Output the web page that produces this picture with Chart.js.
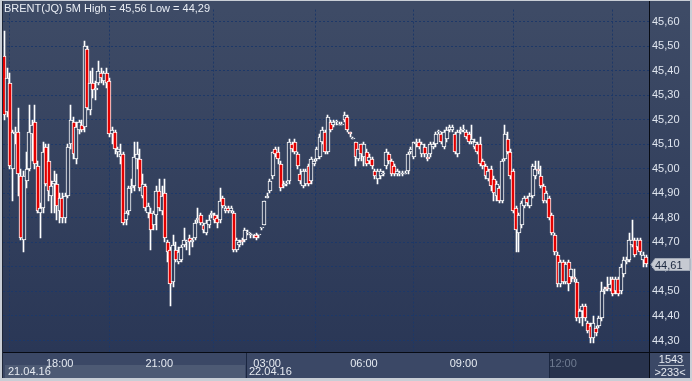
<!DOCTYPE html>
<html><head><meta charset="utf-8">
<script src="https://cdn.jsdelivr.net/npm/chart.js@4.4.1/dist/chart.umd.min.js"></script>
<style>html,body{margin:0;padding:0;background:#c9ced6;}canvas{display:block;}</style>
</head><body>
<canvas id="c" width="692" height="381"></canvas>
<script>
// ---- data (5-minute candles, BRENT(JQ)) ----
const OPEN = [
45.46,45.23,45.35,45.00,45.14,45.15,44.97,44.71,44.95,45.00,
45.14,45.19,45.01,44.82,44.84,45.09,45.03,44.89,44.94,44.94,
44.83,44.88,44.80,44.89,45.10,45.19,45.04,45.16,45.18,45.17,
45.49,45.24,45.35,45.32,45.35,45.39,45.36,45.39,45.36,45.14,
45.15,45.07,45.05,45.06,44.79,44.83,44.92,44.93,45.04,45.04,
44.89,44.93,44.82,44.82,44.77,44.81,44.91,44.83,44.90,44.70,
44.67,44.54,44.67,44.62,44.63,44.69,44.70,44.72,44.70,44.72,
44.79,44.81,44.77,44.74,44.77,44.81,44.81,44.80,44.79,44.88,
44.83,44.84,44.83,44.82,44.67,44.69,44.71,44.71,44.74,44.73,
44.73,44.73,44.73,44.76,44.77,44.88,44.91,44.97,45.08,45.07,
45.02,44.93,44.94,44.95,45.10,45.11,45.06,44.98,44.93,44.94,
45.01,44.95,45.02,45.04,45.05,45.11,45.15,45.07,45.19,45.18,
45.19,45.18,45.18,45.20,45.21,45.15,45.12,45.11,45.04,45.10,
45.05,45.07,45.03,45.04,44.99,44.96,44.97,44.98,45.01,45.06,
45.03,45.01,44.98,44.98,44.98,44.98,44.99,45.07,45.05,45.10,
45.11,45.06,45.09,45.05,45.06,45.09,45.10,45.15,45.14,45.09,
45.12,45.16,45.16,45.14,45.06,45.15,45.16,45.15,45.14,45.11,
45.09,45.10,45.10,45.03,45.01,44.96,45.00,44.96,44.89,44.92,
44.87,45.04,45.12,45.07,44.99,44.84,44.74,44.77,44.85,44.88,
44.85,44.89,44.97,45.00,44.97,44.93,44.87,44.88,44.81,44.73,
44.65,44.53,44.62,44.54,44.62,44.56,44.56,44.54,44.39,44.42,
44.44,44.37,44.36,44.31,44.35,44.36,44.39,44.50,44.52,44.51,
44.55,44.50,44.55,44.50,44.57,44.62,44.63,44.69,44.71,44.68,
44.71,44.63,44.64];
const HIGH = [
45.56,45.41,45.39,45.16,45.17,45.25,45.00,44.99,45.07,45.26,
45.20,45.26,45.03,44.86,45.11,45.10,45.10,44.95,44.99,44.98,
44.90,44.90,44.90,45.10,45.26,45.21,45.19,45.20,45.20,45.52,
45.50,45.40,45.41,45.36,45.44,45.41,45.40,45.41,45.37,45.17,
45.16,45.09,45.10,45.07,44.83,44.93,44.96,45.11,45.11,45.08,
44.98,44.94,44.86,44.84,44.83,44.93,44.96,44.93,44.96,44.71,
44.68,44.73,44.70,44.68,44.69,44.76,44.71,44.73,44.72,44.79,
44.84,44.82,44.78,44.79,44.81,44.83,44.82,44.81,44.92,44.89,
44.85,44.85,44.85,44.83,44.72,44.71,44.72,44.76,44.75,44.74,
44.73,44.74,44.73,44.76,44.87,44.90,44.96,45.07,45.09,45.09,
45.03,44.95,44.95,45.12,45.11,45.12,45.07,45.00,45.00,45.00,
45.02,45.05,45.04,45.09,45.14,45.17,45.16,45.22,45.20,45.20,
45.20,45.19,45.19,45.23,45.22,45.15,45.13,45.11,45.08,45.10,
45.11,45.08,45.06,45.05,45.00,45.00,45.00,44.99,45.08,45.07,
45.04,45.02,45.00,44.99,44.99,44.99,45.07,45.09,45.11,45.12,
45.12,45.11,45.10,45.06,45.11,45.11,45.15,45.16,45.15,45.16,
45.17,45.18,45.18,45.15,45.16,45.17,45.18,45.16,45.15,45.18,
45.12,45.11,45.13,45.04,45.02,45.00,45.01,44.97,44.95,44.93,
45.04,45.18,45.15,45.08,45.00,44.85,44.82,44.87,44.89,44.89,
44.90,45.02,45.03,45.03,45.01,44.94,44.91,44.89,44.82,44.74,
44.66,44.63,44.63,44.62,44.63,44.59,44.59,44.55,44.43,44.45,
44.45,44.38,44.37,44.40,44.36,44.40,44.54,44.52,44.56,44.56,
44.56,44.56,44.56,44.61,44.64,44.64,44.74,44.79,44.72,44.72,
44.72,44.66,44.65];
const LOW = [
45.20,45.21,45.00,44.87,45.10,44.89,44.71,44.66,44.92,44.99,
45.03,45.00,44.82,44.72,44.82,44.93,44.87,44.82,44.82,44.79,
44.78,44.78,44.78,44.88,45.08,45.04,45.02,45.14,45.15,45.15,
45.24,45.22,45.29,45.28,45.34,45.35,45.34,45.33,45.13,45.10,
45.06,45.05,45.02,44.77,44.77,44.81,44.90,44.91,45.00,44.91,
44.88,44.83,44.80,44.67,44.75,44.75,44.83,44.81,44.70,44.62,
44.44,44.52,44.62,44.61,44.62,44.68,44.67,44.65,44.68,44.71,
44.78,44.77,44.74,44.73,44.76,44.80,44.78,44.76,44.78,44.84,
44.82,44.82,44.82,44.66,44.66,44.68,44.69,44.70,44.73,44.72,
44.72,44.71,44.72,44.75,44.77,44.88,44.90,44.96,45.05,45.02,
44.91,44.92,44.93,44.94,45.07,45.06,45.00,44.94,44.92,44.93,
44.93,44.94,45.01,45.03,45.04,45.10,45.06,45.06,45.15,45.17,
45.18,45.18,45.18,45.19,45.15,45.13,45.12,45.01,45.03,45.03,
45.01,45.01,45.02,45.00,44.96,44.94,44.96,44.97,45.00,45.02,
44.97,44.97,44.97,44.97,44.97,44.98,44.98,45.06,45.04,45.09,
45.08,45.05,45.05,45.03,45.05,45.08,45.09,45.14,45.10,45.08,
45.11,45.15,45.15,45.06,45.05,45.14,45.15,45.12,45.10,45.10,
45.08,45.06,45.01,45.00,44.96,44.95,44.91,44.87,44.87,44.86,
44.86,45.03,45.06,44.96,44.82,44.66,44.66,44.76,44.84,44.85,
44.84,44.88,44.96,44.98,44.92,44.86,44.86,44.79,44.73,44.65,
44.52,44.52,44.53,44.53,44.50,44.54,44.54,44.38,44.37,44.36,
44.38,44.33,44.29,44.29,44.32,44.35,44.38,44.49,44.50,44.50,
44.48,44.49,44.48,44.49,44.56,44.61,44.62,44.68,44.64,44.67,
44.65,44.60,44.60];
const CLOSE = [
45.22,45.37,45.01,45.15,45.15,44.98,44.72,44.97,45.00,45.15,
45.18,45.02,44.83,44.84,45.07,44.94,44.91,44.93,44.95,44.85,
44.88,44.80,44.89,45.09,45.20,45.06,45.17,45.19,45.16,45.50,
45.25,45.35,45.32,45.33,45.40,45.37,45.39,45.35,45.14,45.16,
45.08,45.08,45.06,44.78,44.82,44.92,44.93,45.05,45.06,44.92,
44.94,44.84,44.85,44.75,44.82,44.91,44.84,44.89,44.72,44.66,
44.53,44.69,44.63,44.66,44.68,44.71,44.70,44.70,44.71,44.78,
44.80,44.78,44.75,44.78,44.79,44.82,44.79,44.78,44.87,44.85,
44.84,44.83,44.84,44.67,44.71,44.70,44.70,44.75,44.74,44.73,
44.73,44.72,44.73,44.76,44.87,44.89,44.95,45.07,45.06,45.04,
44.92,44.94,44.94,45.11,45.08,45.07,45.01,44.95,44.99,44.99,
44.94,45.04,45.03,45.08,45.13,45.16,45.07,45.21,45.16,45.19,
45.19,45.18,45.18,45.22,45.16,45.14,45.12,45.05,45.08,45.06,
45.10,45.02,45.05,45.01,44.97,44.99,44.99,44.98,45.07,45.03,
44.98,44.98,44.99,44.98,44.98,44.98,45.06,45.08,45.11,45.11,
45.09,45.10,45.06,45.04,45.10,45.10,45.14,45.15,45.11,45.15,
45.16,45.17,45.17,45.07,45.15,45.16,45.16,45.13,45.11,45.12,
45.11,45.07,45.02,45.01,44.97,44.99,44.93,44.90,44.94,44.87,
45.03,45.14,45.07,44.97,44.83,44.75,44.81,44.86,44.88,44.86,
44.89,45.01,45.00,44.99,44.93,44.87,44.90,44.80,44.74,44.66,
44.53,44.62,44.54,44.61,44.53,44.59,44.55,44.39,44.42,44.44,
44.39,44.34,44.31,44.37,44.33,44.39,44.50,44.51,44.51,44.53,
44.49,44.55,44.49,44.60,44.63,44.63,44.71,44.71,44.65,44.71,
44.66,44.65,44.61];
const TICK_INDEX = [20, 56, 95, 130, 166, 202];
const TICK_LABELS = ['18:00', '21:00', '03:00', '06:00', '09:00', '12:00'];
const DATE_INDEX = [0, 88];
const DATE_LABELS = ['21.04.16', '22.04.16'];
const Y_TICKS = [44.3, 44.4, 44.5, 44.6, 44.7, 44.8, 44.9, 45.0, 45.1, 45.2, 45.3, 45.4, 45.5, 45.6];
const TITLE = 'BRENT(JQ) 5M High = 45,56 Low = 44,29';
const LAST_PRICE = 44.61;
const BAR_INFO = ['1543', '>233<'];

// ---- styles ----
const FONT = "'Liberation Sans Narrow', 'Arial Narrow', 'Liberation Sans', Arial, sans-serif";
const BG_TOP = [62, 75, 102], BG_BOT = [42, 55, 86];
const RED = '#e30000';
const GRID = '#1d3868';
const FRAME = '#c9ced6';
const fmt = v => v.toFixed(2).replace('.', ',');

function bgAt(py) {
  const t = Math.min(1, Math.max(0, (py - 3) / 349));
  const c = BG_TOP.map((v, k) => Math.round(v + (BG_BOT[k] - v) * t));
  return 'rgb(' + c.join(',') + ')';
}

const bodyData = OPEN.map((o, i) => ({ x: i, y: [o, CLOSE[i]] }));
const wickData = HIGH.map((h, i) => ({ x: i, y: [LOW[i], h] }));

const snap = {
  id: 'snap',
  beforeDatasetsDraw(chart) {
    chart.getSortedVisibleDatasetMetas().forEach(meta => {
      const wick = meta.index === 1;
      meta.data.forEach(el => {
        el.x = wick ? Math.floor(el.x) + 0.5 : Math.round(el.x);
        el.y = Math.round(el.y);
        el.base = Math.round(el.base);
      });
    });
  }
};

const decor = {
  id: 'decor',
  beforeDraw(chart) {
    const c = chart.ctx, a = chart.chartArea, W = chart.width, H = chart.height;
    c.save();
    c.fillStyle = FRAME; c.fillRect(0, 0, W, H);
    const g = c.createLinearGradient(0, a.top, 0, a.bottom);
    g.addColorStop(0, 'rgb(' + BG_TOP.join(',') + ')');
    g.addColorStop(1, 'rgb(' + BG_BOT.join(',') + ')');
    c.fillStyle = g; c.fillRect(2, 1, W - 4, a.bottom - 1);
    // x axis strip
    c.fillStyle = '#3b4866'; c.fillRect(2, a.bottom, W - 4, H - 3 - a.bottom);
    const xs = chart.scales.x;
    const sep = Math.round(xs.getPixelForValue(DATE_INDEX[1] - 0.5));
    c.fillStyle = '#4d5a74'; c.fillRect(5, 365, sep - 6, H - 3 - 365);
    c.fillStyle = '#28334d'; c.fillRect(549, a.bottom + 1, a.right - 549, H - 4 - a.bottom);
    c.fillStyle = '#1a2640';
    c.fillRect(sep, a.bottom, 1, H - 3 - a.bottom);
    c.fillRect(549, a.bottom + 1, 1, H - 4 - a.bottom);
    c.restore();
  },
  afterDraw(chart) {
    const c = chart.ctx, a = chart.chartArea, W = chart.width, H = chart.height;
    const xs = chart.scales.x, ys = chart.scales.y;
    c.save();
    // axis lines
    c.fillStyle = '#070b14';
    c.fillRect(2, a.bottom, W - 4, 1);
    c.fillRect(a.right, 1, 1, H - 4);
    // left dark edge
    c.fillStyle = '#1e2638'; c.fillRect(2, 1, 1, H - 4);
    // title
    c.font = '11px ' + FONT; c.fillStyle = '#e9edf4'; c.textBaseline = 'alphabetic'; c.textAlign = 'left';
    c.fillText(TITLE, 4, 12);
    // dates
    c.fillStyle = '#e6eaf1';
    DATE_INDEX.forEach((d, k) => {
      const px = Math.round(xs.getPixelForValue(d - 0.5));
      c.fillText(DATE_LABELS[k], px + (k === 0 ? 5 : 3), 375);
    });
    // bar info box
    c.textAlign = 'center';
    c.fillText(BAR_INFO[0], 671, 363);
    c.fillText(BAR_INFO[1], 670, 376);
    c.fillStyle = '#aeb6c4'; c.fillRect(658, 365, 26, 1);
    // last price tag
    const py = Math.round(ys.getPixelForValue(LAST_PRICE)) + 0.5;
    c.beginPath();
    c.moveTo(a.right + 2, py);
    c.lineTo(a.right + 6, py - 6);
    c.lineTo(W - 2, py - 6);
    c.lineTo(W - 2, py + 6);
    c.lineTo(a.right + 6, py + 6);
    c.closePath();
    c.fillStyle = '#c6cad2'; c.fill();
    c.strokeStyle = '#9ea6b4'; c.lineWidth = 1; c.stroke();
    c.fillStyle = '#1d2940'; c.textAlign = 'left';
    c.fillText(fmt(LAST_PRICE), a.right + 6, py + 4);
    c.restore();
  }
};

new Chart(document.getElementById('c'), {
  type: 'bar',
  data: {
    datasets: [
      {
        data: bodyData, grouped: false, barThickness: 4, minBarLength: 1,
        borderWidth: 1, borderColor: '#ffffff', borderSkipped: false,
        backgroundColor: (ctx) => {
          const i = ctx.dataIndex;
          if (CLOSE[i] < OPEN[i]) return RED;
          const s = ctx.chart.scales.y;
          return s ? bgAt(s.getPixelForValue((OPEN[i] + CLOSE[i]) / 2)) : bgAt(180);
        }
      },
      { data: wickData, grouped: false, barThickness: 1, borderWidth: 0, backgroundColor: '#ffffff' }
    ]
  },
  options: {
    responsive: false, animation: false, devicePixelRatio: 1,
    layout: { padding: { left: 3, top: 3, right: 0, bottom: 3 } },
    plugins: { legend: { display: false }, tooltip: { enabled: false }, title: { display: false } },
    scales: {
      x: {
        type: 'linear', position: 'bottom', min: -0.5, max: 233.08, offset: false,
        afterFit(s) { s.height = 26; },
        afterBuildTicks(s) { s.ticks = TICK_INDEX.map(v => ({ value: v })); },
        ticks: {
          autoSkip: false, maxRotation: 0, padding: 5,
          font: { family: FONT, size: 11 },
          color: (ctx) => ctx.index === TICK_LABELS.length - 1 ? '#6f7b91' : '#e6ebf2',
          callback: (v, i) => TICK_LABELS[i]
        },
        grid: { color: GRID, lineWidth: 1, drawTicks: false },
        border: { display: false, dash: [2, 2] }
      },
      y: {
        type: 'linear', position: 'right', min: 44.2532, max: 45.6492,
        afterFit(s) { s.width = 43; },
        afterBuildTicks(s) { s.ticks = Y_TICKS.map(v => ({ value: v })); },
        ticks: { padding: 3, font: { family: FONT, size: 11 }, color: '#dfe5ef', callback: v => fmt(v) },
        grid: { color: GRID, lineWidth: 1, drawTicks: false },
        border: { display: false, dash: [2, 2] }
      }
    }
  },
  plugins: [snap, decor]
});
</script>
</body></html>
